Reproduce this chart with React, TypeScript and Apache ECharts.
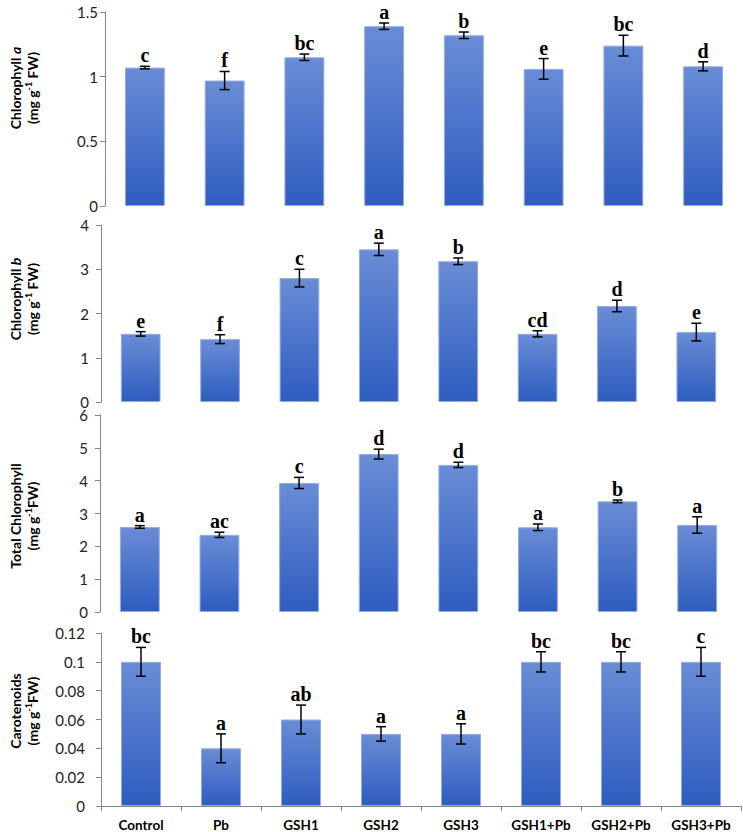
import React, { useEffect, useRef } from 'react';
import * as echarts from 'echarts';

const categories = ['Control', 'Pb', 'GSH1', 'GSH2', 'GSH3', 'GSH1+Pb', 'GSH2+Pb', 'GSH3+Pb'];

const chlA = [1.07, 0.97, 1.15, 1.39, 1.32, 1.06, 1.24, 1.08];
const chlAErr = [0.01, 0.07, 0.025, 0.025, 0.025, 0.08, 0.08, 0.035];
const chlALetters = ['c', 'f', 'bc', 'a', 'b', 'e', 'bc', 'd'];

const chlB = [1.54, 1.42, 2.8, 3.45, 3.18, 1.54, 2.17, 1.58];
const chlBErr = [0.05, 0.1, 0.2, 0.14, 0.075, 0.07, 0.13, 0.2];
const chlBLetters = ['e', 'f', 'c', 'a', 'b', 'cd', 'd', 'e'];

const totalChl = [2.59, 2.35, 3.93, 4.81, 4.48, 2.58, 3.37, 2.65];
const totalChlErr = [0.04, 0.08, 0.17, 0.15, 0.08, 0.1, 0.04, 0.25];
const totalChlLetters = ['a', 'ac', 'c', 'd', 'd', 'a', 'b', 'a'];

const carot = [0.1, 0.04, 0.06, 0.05, 0.05, 0.1, 0.1, 0.1];
const carotErr = [0.01, 0.01, 0.01, 0.005, 0.007, 0.007, 0.007, 0.01];
const carotLetters = ['bc', 'a', 'ab', 'a', 'a', 'bc', 'bc', 'c'];

const yMax = [1.5, 4, 6, 0.12];
const yInterval = [0.5, 1, 1, 0.02];

const titles = [
  '{b|Chlorophyll }{bi|a}\n{b|(mg g}{s|-1}{b| FW)}',
  '{b|Chlorophyll }{bi|b}\n{b|(mg g}{s|-1}{b| FW)}',
  '{b|Total Chlorophyll}\n{b|(mg g}{s|-1}{b|FW)}',
  '{b|Carotenoids}\n{b|(mg g}{s|-1}{b|FW)}',
];

export default function App() {
  const ref = useRef<HTMLDivElement>(null);
  useEffect(() => {
    document.body.style.margin = '0';
    if (!ref.current) return;
    const chart = echarts.init(ref.current, undefined, { renderer: 'svg' });

    const values = [chlA, chlB, totalChl, carot];
    const errs = [chlAErr, chlBErr, totalChlErr, carotErr];
    const letters = [chlALetters, chlBLetters, totalChlLetters, carotLetters];

    const grids = [
      { top: 12, height: 194, left: 105, width: 640 },
      { top: 225, height: 177, left: 101, width: 635 },
      { top: 415, height: 197, left: 100, width: 637 },
      { top: 633, height: 174, left: 101, width: 640 },
    ];
    const labelMargins = [7, 12, 12, 16];
    const titleY = [88, 299, 516, 711];

    const axisColor = '#868686';
    const barColor = new echarts.graphic.LinearGradient(0, 0, 0, 1, [
      { offset: 0, color: '#6a8cd6' },
      { offset: 1, color: '#2e5dc0' },
    ]);

    const xAxis: any[] = [];
    const yAxis: any[] = [];
    const series: any[] = [];

    for (let i = 0; i < 4; i++) {
      const last = i === 3;
      xAxis.push({
        type: 'category',
        gridIndex: i,
        data: categories,
        show: last,
        axisLine: { show: last, lineStyle: { color: axisColor, width: 1 } },
        axisTick: { show: last, length: 5, lineStyle: { color: axisColor } },
        axisLabel: {
          show: last,
          margin: 12,
          fontFamily: 'Lato',
          fontWeight: 'bold',
          fontSize: 13.5,
          color: '#000',
          interval: 0,
        },
      });
      yAxis.push({
        type: 'value',
        gridIndex: i,
        min: 0,
        max: yMax[i],
        interval: yInterval[i],
        splitLine: { show: false },
        axisLine: { show: true, lineStyle: { color: axisColor, width: 1 } },
        axisTick: { show: true, length: 5, lineStyle: { color: axisColor } },
        axisLabel: {
          margin: labelMargins[i],
          fontFamily: 'Lato',
          fontSize: 15,
          color: '#222',
          formatter: (v: number) => String(+v.toFixed(3)),
        },
      });
      series.push({
        type: 'bar',
        xAxisIndex: i,
        yAxisIndex: i,
        data: values[i],
        barWidth: '50%',
        itemStyle: { color: barColor, borderColor: '#93abe2', borderWidth: 1 },
      });
      const lt = letters[i];
      series.push({
        type: 'custom',
        xAxisIndex: i,
        yAxisIndex: i,
        z: 10,
        data: values[i].map((v, k) => [k, v, errs[i][k]]),
        renderItem: (params: any, api: any) => {
          const x = api.value(0);
          const v = api.value(1);
          const e = api.value(2);
          const top = api.coord([x, v + e]);
          const bot = api.coord([x, v - e]);
          const cx = top[0];
          const hw = 5;
          const st = { stroke: '#000', lineWidth: 1.5 };
          return {
            type: 'group',
            children: [
              { type: 'line', shape: { x1: cx, y1: top[1], x2: cx, y2: bot[1] }, style: st },
              { type: 'line', shape: { x1: cx - hw, y1: top[1], x2: cx + hw, y2: top[1] }, style: st },
              { type: 'line', shape: { x1: cx - hw, y1: bot[1], x2: cx + hw, y2: bot[1] }, style: st },
              {
                type: 'text',
                x: cx,
                y: top[1] - 1,
                style: {
                  text: lt[params.dataIndex],
                  fontFamily: 'Liberation Serif',
                  fontWeight: 'bold',
                  fontSize: 20,
                  fill: '#000',
                  align: 'center',
                  verticalAlign: 'bottom',
                },
              },
            ],
          };
        },
      });
    }

    const rich = {
      b: { fontFamily: 'Lato', fontWeight: 'bold', fontSize: 14, lineHeight: 17, color: '#000' },
      bi: { fontFamily: 'Lato', fontWeight: 'bold', fontStyle: 'italic', fontSize: 14, lineHeight: 17, color: '#000' },
      s: { fontFamily: 'Lato', fontWeight: 'bold', fontSize: 9, lineHeight: 17, verticalAlign: 'top', color: '#000' },
    };

    chart.setOption({
      animation: false,
      backgroundColor: '#fff',
      grid: grids.map((g) => ({ ...g, containLabel: false })),
      xAxis,
      yAxis,
      series,
      graphic: titles.map((t, i) => ({
        type: 'text',
        x: 24,
        y: titleY[i],
        rotation: Math.PI / 2,
        style: {
          text: t,
          rich,
          fill: '#000',
          align: 'center',
          verticalAlign: 'middle',
        },
      })),
    });
    return () => chart.dispose();
  }, []);
  return <div ref={ref} style={{ width: 743, height: 832 }} />;
}
